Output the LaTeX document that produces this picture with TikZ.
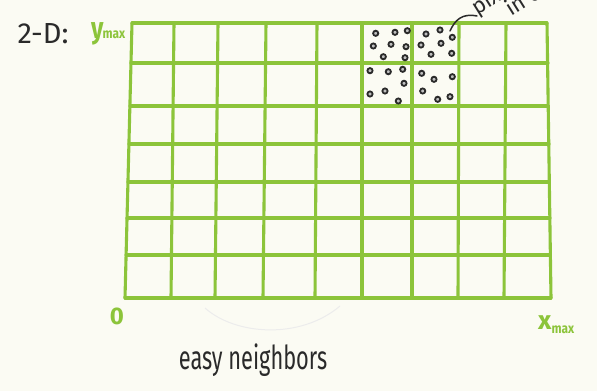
\documentclass[tikz,border=0pt]{standalone}
\usepackage{fontspec}
\setmainfont{Fira Sans}
\definecolor{paper}{HTML}{FBFBF3}
\definecolor{lime}{HTML}{8CC43A}
\definecolor{ink}{HTML}{2A2A2A}
\tikzset{
  gridline/.style={draw=lime, line width=3.1pt, line cap=round},
  dotmark/.style={draw=ink, fill=gray!50, line width=1.8pt},
  handtext/.style={inner sep=0pt, text=ink},
  axislabel/.style={inner sep=0pt, text=lime},
  notetext/.style={inner sep=0pt, text=ink, anchor=base west, rotate=32, font=\fontsize{22}{22}\selectfont},
}
\begin{document}
\begin{tikzpicture}[x=1pt, y=-1pt]
\fill[paper] (0,0) rectangle (597,391);
\useasboundingbox (0,0) rectangle (597,391);
\begin{scope}
\clip (0,0) rectangle (597,391);
% faint arc under the grid
\draw[gray!15, line width=1pt] (205,308) .. controls (235,335) and (300,340) .. (340,306);
% vertical grid lines
\foreach \xt/\xb in {132/125,174/171,218/215,266/263,317/315,362/362,412/412,459/458,506/504,547/551}
  \draw[gridline] (\xt,23) -- (\xb,298);
% horizontal grid lines
\foreach \yy/\xl/\xr in {23/132/547,63/131/548,106/130/548,144/129/549,182/128/549,218/127/550,255/126/550,298/125/551}
  \draw[gridline] (\xl,\yy) -- (\xr,\yy);
% dots (pixels in the cells)
\foreach \px/\py in {375.7/33.3,395/32.3,407.3/30.7,373.3/46,391/44.3,406/46.7,383.3/56.7,405/57.7,
  426/34,440/30,452.3/37.3,421/45,441/43.3,431/54.3,451.7/53.3,
  370/70.7,388.3/71.7,402.7/69.3,404/83.3,370/94,385/91,398.3/101,
  421.7/73.3,434/79.3,452.3/76.7,422.7/91,437.7/99.3,450/96.7}
  \draw[dotmark] (\px,\py) circle (2.6pt);
% labels
\node[handtext, font=\fontsize{29}{29}\selectfont] (dim) at (43,34) {2-D:};
\node[axislabel, anchor=west, font=\bfseries\fontsize{30}{30}\selectfont] (ymax) at (91,34)
  {\scalebox{0.8}[1]{y}\hspace{-1pt}{\fontsize{14}{14}\selectfont\scalebox{0.85}[1]{max}}};
\node[axislabel, font=\bfseries\fontsize{24}{24}\selectfont] (zero) at (117,316) {0};
\node[axislabel, anchor=west, font=\bfseries\fontsize{26}{26}\selectfont] (xmax) at (538,325)
  {x{\fontsize{14}{14}\selectfont\raisebox{-4pt}{\scalebox{0.85}[1]{max}}}};
\node[handtext, font=\fontsize{33}{33}\selectfont] (easy) at (253,360)
  {\scalebox{0.66}[1]{easy neighbors}};
% pixels-in-cell note (cut off at the top edge)
\node[notetext] (pix) at (477,16) {pixels};
\node[notetext] (incell) at (511,17) {in cell};
\coordinate (cellcorner) at (450,31);
\draw[ink, line width=1.5pt, line cap=round] (cellcorner) .. controls (455,20) and (462,13) .. (pix.base west);
\end{scope}
\end{tikzpicture}
\end{document}
